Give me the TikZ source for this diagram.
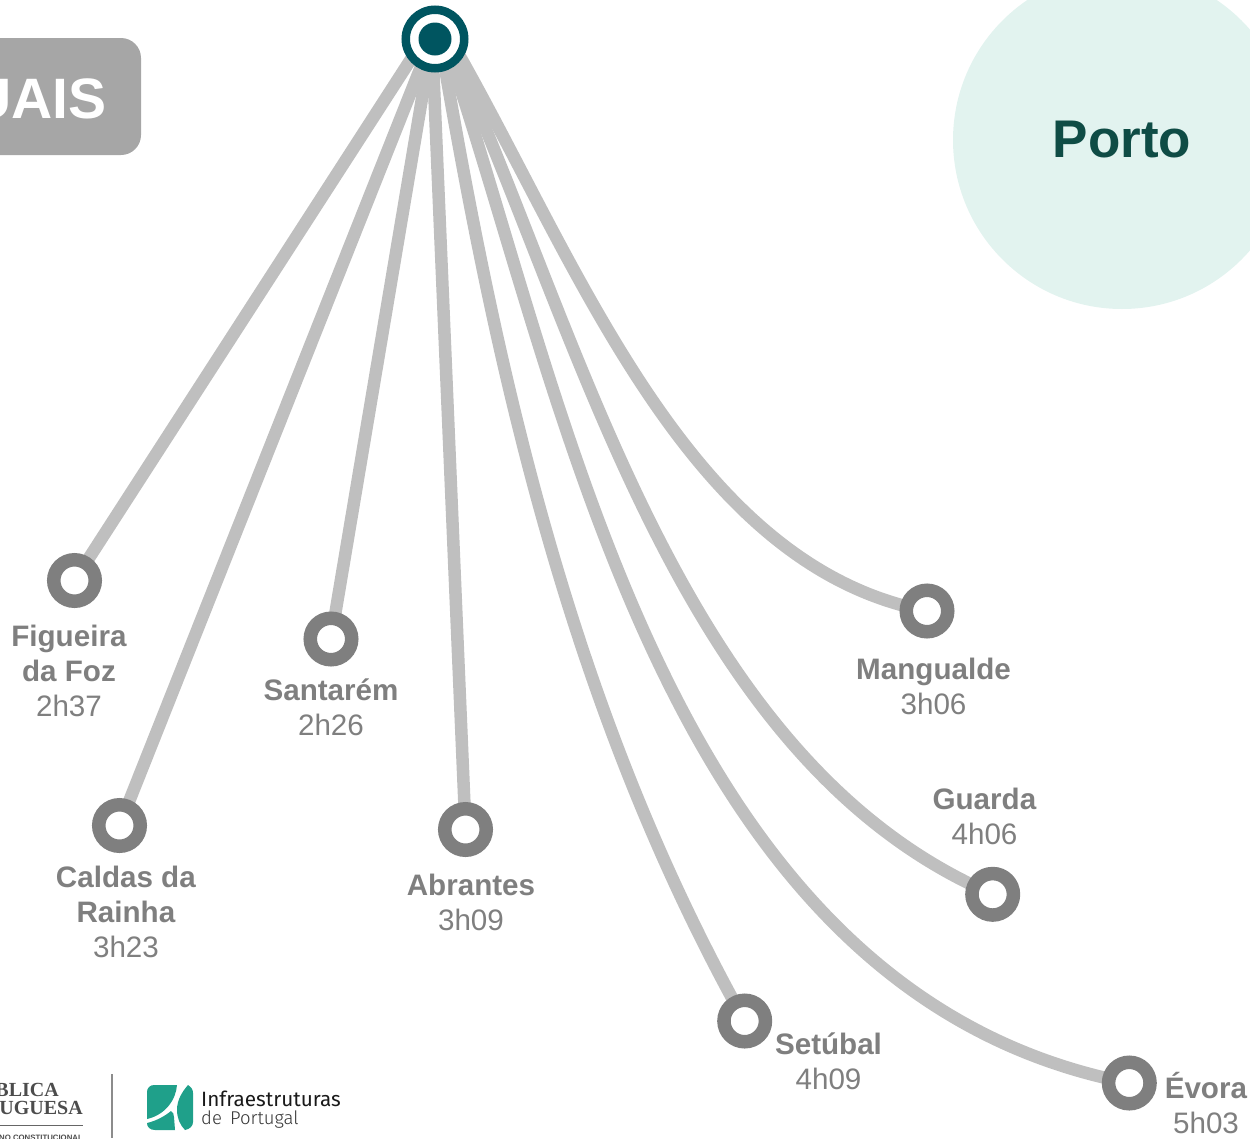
\documentclass[tikz,border=0pt]{standalone}
\usepackage{fontspec}
\setmainfont{Liberation Sans}
\newfontfamily\logofont{Fira Sans}
\newfontfamily\logolight{Fira Sans Light}
\newfontfamily\serifface{Liberation Serif}
\usetikzlibrary{backgrounds}
\definecolor{ringgray}{HTML}{7F7F7F}
\definecolor{linkgray}{HTML}{BFBFBF}
\definecolor{hubteal}{HTML}{005560}
\definecolor{portobg}{HTML}{E2F3EF}
\definecolor{portotxt}{HTML}{0F4C45}
\definecolor{boxgray}{HTML}{A6A6A6}
\definecolor{logoteal}{HTML}{1FA08A}
\tikzset{
  stopring/.style={circle,draw=ringgray,line width=13.5pt,fill=white,minimum size=41.5pt,inner sep=0pt},
  stoplabel/.style={align=center,text=ringgray,font=\fontsize{29.6}{35}\selectfont,inner sep=0pt},
  link/.style={draw=linkgray,line width=12.5pt}
}
\newcommand{\stopname}[1]{\textbf{#1}}
\begin{document}
\begin{tikzpicture}[x=1pt,y=-1pt]
\useasboundingbox (0,0) rectangle (1250,1138);
\clip (0,0) rectangle (1250,1138);
\fill[portobg] (1122,140) circle (169);
\node[text=portotxt,font=\fontsize{53}{60}\bfseries\selectfont,inner sep=0pt] (porto) at (1122,140) {Porto};
\fill[boxgray,rounded corners=20pt] (-60,38) rectangle (141,155);
\node[anchor=east,text=white,font=\fontsize{57}{60}\bfseries\selectfont,inner sep=0pt] (anuais) at (106.5,99) {UAIS};

\node[circle,draw=hubteal,line width=8.5pt,fill=white,minimum size=58.5pt,inner sep=0pt] (hub) at (435,39) {};
\node[circle,fill=hubteal,minimum size=33pt,inner sep=0pt] (hubcore) at (435,39) {};
\coordinate (startfig) at (424,39);
\coordinate (startmid) at (432,39);
\coordinate (startset) at (440,39);
\coordinate (startevo) at (444,39);
\coordinate (startgua) at (447,39);
\coordinate (startman) at (450,39);

\node[stopring] (figueira) at (74.5,580.5) {};
\node[stopring] (caldas) at (119.5,825.5) {};
\node[stopring] (santarem) at (331,639) {};
\node[stopring] (abrantes) at (465.5,829.5) {};
\node[stopring] (setubal) at (744.7,1021) {};
\node[stopring] (guarda) at (992.7,894.3) {};
\node[stopring] (evora) at (1129.3,1083) {};
\node[stopring] (mangualde) at (927,611) {};

\begin{scope}[on background layer]
\draw[link] (startfig) -- (figueira.center);
\draw[link] (startmid) -- (caldas.center);
\draw[link] (startmid) -- (santarem.center);
\draw[link] (startmid) -- (abrantes.center);
\draw[link] (startset) .. controls (496,368) and (569,707) .. (setubal.center);
\draw[link] (startevo) .. controls (566,393) and (662,993) .. (evora.center);
\draw[link] (startgua) .. controls (582,334) and (678,759) .. (guarda.center);
\draw[link] (startman) .. controls (575,255) and (685,565) .. (mangualde.center);
\end{scope}

\node[stoplabel] (lfigueira) at (69,671) {\stopname{Figueira}\\\stopname{da Foz}\\2h37};
\node[stoplabel] (lcaldas) at (126,912) {\stopname{Caldas da}\\\stopname{Rainha}\\3h23};
\node[stoplabel] (lsantarem) at (331,707) {\stopname{Santarém}\\2h26};
\node[stoplabel] (labrantes) at (471,902) {\stopname{Abrantes}\\3h09};
\node[stoplabel] (lsetubal) at (828.5,1061) {\stopname{Setúbal}\\4h09};
\node[stoplabel] (lguarda) at (984.5,816) {\stopname{Guarda}\\4h06};
\node[stoplabel] (levora) at (1206,1103.5) {\stopname{Évora}\\5h03};
\node[stoplabel] (lmangualde) at (933.5,686) {\stopname{Mangualde}\\3h06};

% logos
\node[anchor=east,text=black!70,font=\serifface\fontsize{20}{20}\bfseries\selectfont,inner sep=0pt] (rep1) at (59,1088) {REPÚBLICA};
\node[anchor=east,text=black!70,font=\serifface\fontsize{20}{20}\bfseries\selectfont,inner sep=0pt] (rep2) at (83,1108) {PORTUGUESA};
\draw[black!60,line width=1pt] (0,1125) -- (83,1125);
\node[anchor=east,text=black!70,font=\fontsize{7.8}{8}\bfseries\selectfont,inner sep=0pt] (rep3) at (83,1138) {GOVERNO CONSTITUCIONAL};
\draw[black!45,line width=1.5pt] (112,1074) -- (112,1138);
\fill[logoteal] (154,1085) -- (177,1085) .. controls (176,1100) and (165,1115) .. (147,1119) -- (147,1092) .. controls (147,1088) and (150,1085) .. (154,1085) -- cycle;
\fill[logoteal] (147,1123) .. controls (156,1121) and (165,1116) .. (171,1111) .. controls (173,1112) and (174,1114) .. (174,1117) -- (175,1130) -- (155,1130) .. controls (150,1130) and (147,1127) .. (147,1123) -- cycle;
\fill[logoteal] (188,1085) .. controls (182,1092) and (177,1100) .. (177,1110) .. controls (177,1118) and (180,1125) .. (185,1130) .. controls (190,1129) and (193,1126) .. (193,1122) -- (193,1093) .. controls (193,1089) and (191,1087) .. (188,1085) -- cycle;
\node[anchor=west,text=black!90,font=\logofont\fontsize{20.7}{22}\selectfont,inner sep=0pt] (ip1) at (201,1098.5) {Infraestruturas};
\node[anchor=west,text=black!80,font=\logolight\fontsize{18.5}{20}\selectfont,inner sep=0pt] (ip2) at (201,1120) {de\, Portugal};
\end{tikzpicture}
\end{document}
